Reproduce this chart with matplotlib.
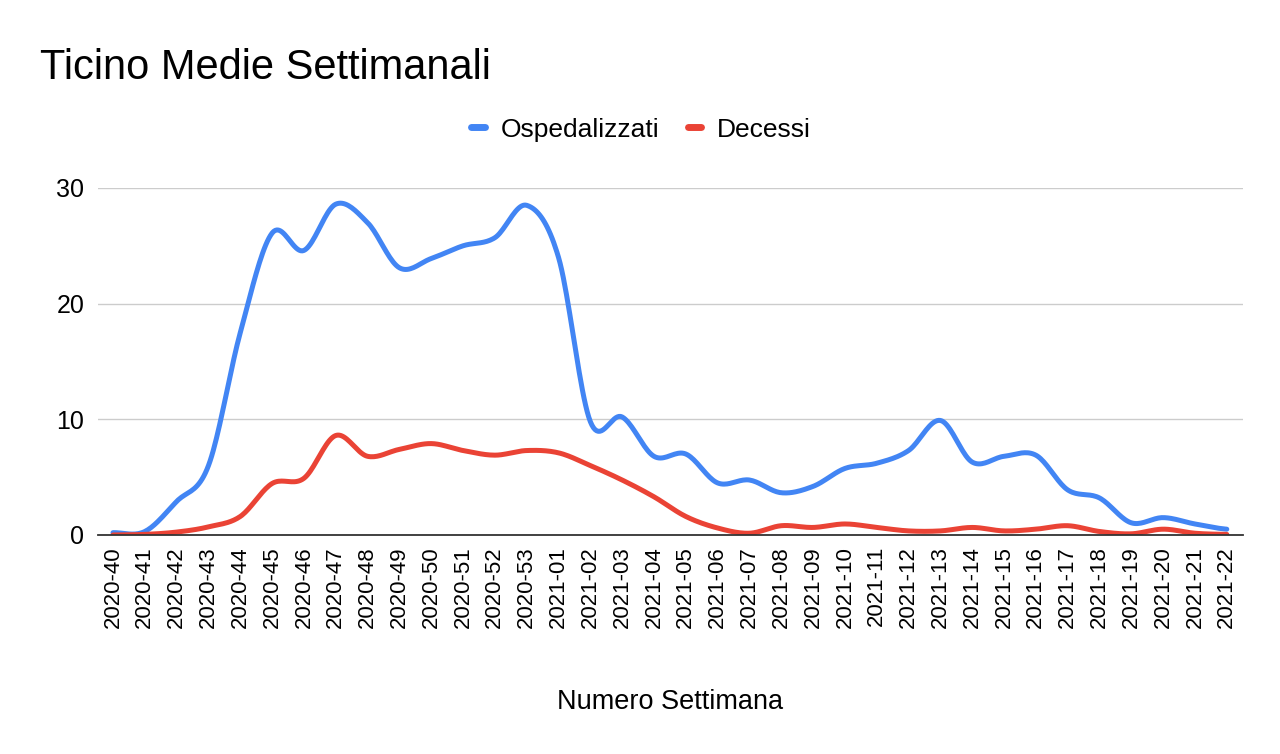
import numpy as np
import matplotlib.pyplot as plt

plt.rcParams['font.family'] = ['Liberation Sans', 'DejaVu Sans']

# settimane
settimane = ['2020-%02d' % w for w in range(40, 54)] + ['2021-%02d' % w for w in range(1, 23)]

ospedalizzati = [0.2, 0.3, 2.9, 6.0, 17.5, 26.1, 24.6, 28.6, 27.0, 23.1, 23.9, 25.0,
                 25.7, 28.5, 24.0, 9.8, 10.2, 6.8, 7.0, 4.5, 4.75, 3.65, 4.2, 5.75,
                 6.2, 7.3, 9.9, 6.3, 6.8, 6.9, 3.9, 3.2, 1.05, 1.5, 0.95, 0.5]

decessi = [0.0, 0.05, 0.25, 0.7, 1.6, 4.45, 4.9, 8.6, 6.8, 7.4, 7.9, 7.3,
           6.9, 7.3, 7.1, 6.0, 4.75, 3.3, 1.6, 0.6, 0.15, 0.8, 0.65, 0.95,
           0.65, 0.35, 0.35, 0.65, 0.35, 0.5, 0.8, 0.3, 0.1, 0.5, 0.15, 0.05]

BLUE = '#4285F4'
RED = '#EA4335'


# curva morbida (Catmull-Rom) che passa per i punti
def smooth(y, n=20):
    y = np.asarray(y, dtype=float)
    x = np.arange(len(y), dtype=float)
    p = np.concatenate([[y[0]], y, [y[-1]]])
    xs, ys = [], []
    t = np.linspace(0, 1, n, endpoint=False)
    for i in range(len(y) - 1):
        p0, p1, p2, p3 = p[i], p[i + 1], p[i + 2], p[i + 3]
        yy = 0.5 * ((2 * p1) + (-p0 + p2) * t + (2 * p0 - 5 * p1 + 4 * p2 - p3) * t ** 2
                    + (-p0 + 3 * p1 - 3 * p2 + p3) * t ** 3)
        xs.append(x[i] + t)
        ys.append(yy)
    xs.append([x[-1]])
    ys.append([y[-1]])
    return np.concatenate(xs), np.concatenate(ys)


fig = plt.figure(figsize=(12.8, 7.54), dpi=100)
ax = fig.add_axes([0.0766, 0.2905, 0.8945, 0.4602])

xo, yo = smooth(ospedalizzati)
xd, yd = smooth(decessi)
ax.plot(xo, yo, color=BLUE, lw=3.6, solid_capstyle='round', label='Ospedalizzati', zorder=3)
ax.plot(xd, yd, color=RED, lw=3.6, solid_capstyle='round', label='Decessi', zorder=3)

ax.set_xlim(-0.47, 35.51)
ax.set_ylim(0, 30)
ax.set_yticks([0, 10, 20, 30])
ax.set_xticks(range(len(settimane)))
ax.set_xticklabels(settimane, rotation=90, fontsize=16)
ax.tick_params(axis='y', labelsize=18, length=0, pad=10)
ax.tick_params(axis='x', length=0, pad=8)
ax.grid(axis='y', color='#cccccc', lw=1)
for s in ['top', 'right', 'left']:
    ax.spines[s].set_visible(False)
ax.spines['bottom'].set_color('#333333')
ax.spines['bottom'].set_linewidth(1.3)
ax.spines['bottom'].set_zorder(4)

ax.set_xlabel('Numero Settimana', fontsize=19.5, labelpad=44)

fig.text(0.031, 0.91, 'Ticino Medie Settimanali', fontsize=30, va='center', ha='left')

leg = fig.legend(loc='center', bbox_to_anchor=(0.501, 0.828), ncol=2, frameon=False,
                 fontsize=19, handlelength=0.5, handletextpad=0.6, columnspacing=1.1)
for h in leg.get_lines():
    h.set_linewidth(5)

fig.savefig('out.png', dpi=100)
